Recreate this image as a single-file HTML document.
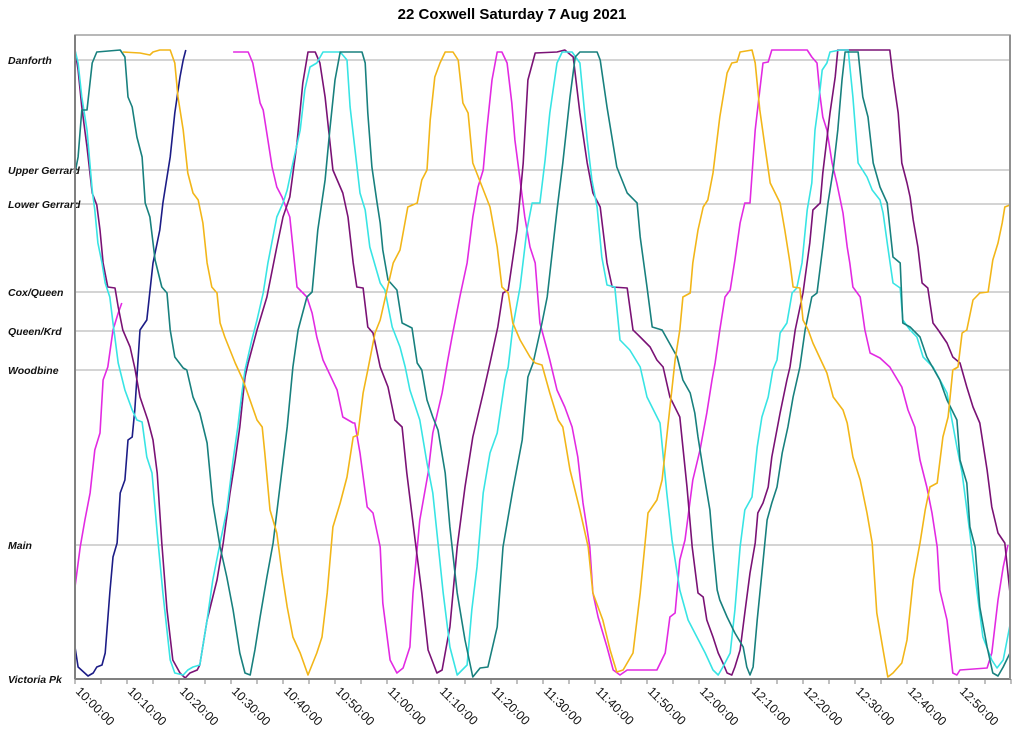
<!DOCTYPE html>
<html><head><meta charset="utf-8"><style>
html,body{margin:0;padding:0;background:#fff;}
svg{display:block;font-family:"Liberation Sans",Arial,sans-serif;}
</style></head><body>
<svg id="chart" width="1024" height="748" viewBox="0 0 1024 748" xmlns="http://www.w3.org/2000/svg">
<rect x="0" y="0" width="1024" height="748" fill="#fff"/>
<text x="512" y="19" text-anchor="middle" font-size="15" font-weight="bold" fill="#000">22 Coxwell Saturday 7 Aug 2021</text>
<g id="grid"></g>
<g id="series"></g>
<g id="axes"></g>
</svg>
<script>
// Stops: distance from Victoria Pk in metres
const stopNames = ["Danforth","Upper Gerrard","Lower Gerrard","Cox/Queen","Queen/Krd","Woodbine","Main","Victoria Pk"];
const stopDist = [6190,5090,4750,3870,3480,3090,1340,0];
// Time ticks, minutes after 10:00
const tickLabels = ["10:00:00","10:10:00","10:20:00","10:30:00","10:40:00","10:50:00","11:00:00","11:10:00","11:20:00","11:30:00","11:40:00","11:50:00","12:00:00","12:10:00","12:20:00","12:30:00","12:40:00","12:50:00"];
const tickMinutes = [0,10,20,30,40,50,60,70,80,90,100,110,120,130,140,150,160,170];
const seriesColors = ["#1c1c86","#e22ae2","#7a1275","#38e4e4","#18807e","#f2b619"];
const seriesNames = ["navy-vehicle","magenta-vehicle","purple-vehicle","cyan-vehicle","teal-vehicle","orange-vehicle"];

// [minutes after 10:00, metres from Victoria Pk]
const navyTrip = [[0,320],[0.6,120],[2.5,30],[3.5,60],[4.2,120],[5.2,140],[5.8,260],[6.7,860],[7.3,1220],[8.1,1360],[8.7,1860],[9.6,1990],[10.2,2390],[11.0,2420],[11.5,2690],[12.5,3490],[13.8,3590],[15.0,4160],[16.3,4490],[16.9,4760],[18.3,5220],[19.2,5660],[20.2,6020],[20.8,6190],[21.3,6290]];
const magentaTripA = [[0,920],[1.0,1320],[1.9,1590],[2.9,1860],[3.8,2290],[4.8,2460],[5.4,2990],[6.3,3120],[7.3,3490],[8.3,3660],[9.0,3760]];
const magentaTripB = [[30.4,6270],[33.3,6270],[34.2,6160],[35.6,5760],[36.2,5690],[37.1,5390],[37.9,5120],[38.8,4920],[39.8,4820],[41.3,4620],[41.9,4320],[42.7,3920],[44.6,3820],[45.6,3660],[46.5,3420],[47.7,3190],[50.4,2890],[51.5,2620],[53.5,2560],[53.8,2560],[54.8,2260],[56.2,1720],[57.3,1660],[58.7,1320],[59.2,760],[60.6,190],[61.9,60],[63.1,110],[64.4,320],[65.0,860],[66.3,1590],[67.9,2060],[68.8,2460],[70.6,2860],[71.7,3190],[72.5,3420],[74.0,3820],[75.4,4160],[76.5,4620],[77.5,4920],[78.5,5090],[79.2,5490],[80.2,5990],[81.2,6270],[82.1,6270],[83.1,6160],[84.0,5760],[84.6,5390],[85.6,4990],[86.5,4620],[87.5,4320],[88.5,4160],[89.4,3560],[90.8,3290],[91.3,3190],[92.7,2890],[94.2,2720],[95.6,2520],[96.7,2220],[97.7,1760],[99.0,1320],[99.6,860],[100.6,620],[102.3,320],[103.5,90],[104.8,40],[106.2,90],[111.9,90],[113.5,260],[114.4,620],[115.4,660],[116.3,1190],[117.3,1390],[118.8,1990],[120.2,2290],[121.5,2660],[122.5,2990],[123.1,3160],[124.0,3490],[125.0,3820],[126.0,3890],[126.9,4190],[127.9,4560],[128.8,4760],[129.8,4760],[130.8,5490],[131.7,5890],[132.3,6160],[133.3,6170],[134.0,6290],[140.8,6290],[141.7,6220],[142.7,6160],[143.3,5820],[143.8,5620],[144.6,5490],[145.6,5160],[146.5,4960],[147.7,4660],[148.5,4320],[149.0,4160],[149.6,3920],[151.0,3820],[151.9,3490],[152.9,3260],[154.8,3210],[156.7,3120],[159.0,2920],[160.2,2690],[161.5,2520],[162.5,2190],[163.8,1920],[164.8,1660],[165.8,1320],[166.3,890],[167.7,590],[168.8,60],[169.6,40],[170.2,90],[175.4,110],[176.3,260],[177.5,790],[178.5,1120],[179.4,1340]];
const purpleTrip = [[0,6290],[0.6,6090],[1.3,5720],[2.3,5320],[3.3,4860],[4.2,4740],[4.8,4490],[5.4,4160],[6.3,3920],[7.7,3910],[8.3,3720],[9.2,3490],[10.6,3320],[11.5,3110],[12.5,2820],[14.0,2590],[15.0,2390],[15.8,2060],[16.7,1360],[17.7,690],[18.8,190],[20.2,60],[21.2,10],[22.1,60],[23.5,90],[24.0,140],[25.4,590],[27.3,990],[28.5,1360],[29.8,1860],[30.8,2190],[31.7,2520],[32.7,3020],[33.3,3160],[35.0,3490],[36.9,3820],[38.8,4320],[40.0,4620],[41.3,4820],[42.7,5360],[43.8,5960],[44.8,6270],[46.2,6270],[47.1,6160],[48.1,5820],[49.6,5090],[51.5,4860],[52.5,4620],[53.5,4160],[54.2,3920],[55.4,3910],[56.3,3520],[57.3,3460],[58.7,3120],[60.2,2920],[61.5,2590],[62.9,2520],[63.8,2060],[65.4,1390],[66.7,860],[67.9,290],[69.6,60],[70.6,90],[72.1,520],[73.5,1320],[75.0,1920],[76.5,2420],[78.5,2860],[79.8,3160],[81.3,3520],[82.3,3860],[83.3,3890],[85.0,4490],[86.2,5160],[87.1,5990],[88.5,6260],[92.7,6270],[94.2,6290],[95.8,6220],[97.1,5660],[98.5,5160],[99.6,4860],[101.0,4720],[102.3,4160],[103.3,3920],[106.2,3910],[107.3,3490],[108.7,3420],[110.6,3320],[111.9,3190],[113.1,3120],[114.4,2820],[116.3,2620],[117.7,1920],[118.7,1320],[119.8,860],[120.8,820],[121.5,590],[122.7,420],[123.7,260],[124.6,160],[125.4,60],[126.3,40],[126.9,120],[127.9,290],[128.8,660],[129.8,1060],[130.8,1360],[131.3,1660],[132.3,1760],[133.3,1920],[134.0,2220],[135.6,2660],[136.9,2990],[137.5,3120],[138.5,3490],[140.0,3860],[141.3,4360],[141.9,4690],[143.3,4760],[143.8,5060],[145.2,5660],[146.2,6020],[146.7,6290],[156.7,6290],[157.3,6020],[158.3,5660],[159.0,5160],[160.0,4960],[160.6,4820],[161.2,4590],[162.1,4320],[162.9,3960],[164.0,3910],[165.0,3560],[166.0,3490],[167.7,3360],[168.8,3220],[170.2,3160],[171.5,2920],[172.7,2720],[174.0,2560],[175.4,2090],[176.3,1720],[177.5,1460],[178.8,1360],[179.8,860]];
const cyanTrip = [[0,6290],[0.6,6160],[1.3,5820],[2.3,5490],[3.3,4890],[3.8,4690],[4.4,4360],[5.2,4160],[5.8,3960],[6.7,3820],[7.3,3560],[8.3,3160],[9.6,2890],[11.0,2690],[11.9,2590],[12.9,2570],[13.8,2220],[14.8,2060],[15.8,1460],[16.9,860],[18.3,190],[19.2,60],[20.8,40],[21.7,90],[22.7,120],[24.0,140],[25.4,590],[26.5,990],[27.9,1360],[29.2,1690],[30.4,2190],[31.3,2520],[32.1,2860],[32.7,3090],[34.0,3390],[35.0,3590],[36.2,3860],[37.1,4160],[38.8,4620],[40.0,4760],[40.8,4890],[41.9,5160],[43.3,5490],[44.2,5890],[45.2,6120],[46.5,6160],[47.7,6270],[51.0,6270],[52.3,6190],[52.9,5720],[54.8,4860],[55.8,4690],[56.7,4320],[58.7,3960],[59.6,3890],[61.0,3520],[62.5,3320],[63.5,3120],[64.4,2890],[66.3,2590],[67.7,2160],[68.8,1860],[69.8,1360],[70.8,860],[72.1,320],[73.5,40],[75.4,140],[76.3,690],[77.3,1120],[78.5,1860],[79.8,2260],[81.2,2460],[82.7,2990],[83.3,3120],[84.2,3520],[85.6,3920],[86.9,4490],[87.9,4760],[89.4,4760],[90.4,5190],[91.3,5660],[92.7,6160],[93.7,6270],[95.6,6270],[97.1,6160],[98.5,5390],[99.4,4990],[100.4,4720],[101.3,4220],[102.3,3940],[103.8,3920],[104.8,3390],[106.7,3290],[108.7,3120],[110.0,2820],[112.5,2560],[113.8,1860],[114.8,1390],[116.3,890],[117.9,590],[119.6,420],[121.2,260],[122.7,90],[123.7,40],[124.6,120],[126.0,260],[126.9,690],[127.9,1320],[128.8,1690],[130.2,1820],[131.2,2320],[132.1,2620],[133.3,2820],[134.2,3090],[135.0,3190],[135.6,3460],[136.9,3560],[137.9,3860],[138.8,3910],[139.8,4160],[140.8,4690],[141.7,4960],[142.3,5490],[142.9,5720],[143.7,6090],[144.6,6160],[145.2,6270],[147.1,6290],[148.7,6290],[149.6,5820],[150.6,5160],[152.3,5020],[153.3,4890],[154.8,4790],[155.4,4660],[156.3,4320],[157.3,3960],[158.7,3910],[159.2,3590],[160.6,3490],[161.9,3420],[163.1,3220],[165.0,3120],[167.7,2860],[169.6,2320],[170.6,2060],[172.1,1460],[173.5,860],[174.6,420],[176.3,190],[177.3,110],[178.5,190],[179.8,540]];
const tealTrip = [[0,5060],[0.6,5220],[1.3,5690],[2.3,5690],[3.3,6160],[4.2,6270],[8.7,6290],[9.6,6220],[10.2,5820],[11.0,5720],[11.9,5420],[12.9,5220],[13.5,4760],[14.4,4620],[15.4,4190],[16.7,3920],[17.7,3860],[18.3,3490],[19.2,3220],[20.8,3110],[21.5,3090],[22.7,2820],[24.0,2660],[25.4,2360],[26.5,1760],[27.9,1320],[29.2,1020],[30.4,690],[31.7,260],[32.7,60],[33.7,40],[34.6,290],[35.6,620],[36.9,1020],[38.1,1360],[39.4,1920],[40.8,2520],[41.9,3120],[42.9,3490],[44.6,3820],[45.6,3870],[46.7,4490],[48.1,4990],[49.0,5490],[50.0,5990],[51.0,6270],[55.2,6270],[55.8,6160],[56.3,5660],[57.1,5120],[58.1,4760],[58.7,4560],[59.2,4290],[60.2,3990],[61.9,3890],[62.9,3560],[64.8,3510],[65.8,3160],[66.7,3090],[67.7,2790],[68.8,2620],[69.8,2490],[71.2,2060],[72.1,1520],[73.5,860],[75.0,390],[76.5,20],[77.9,110],[79.4,120],[81.2,520],[82.3,1320],[84.2,1890],[86.0,2390],[87.1,3020],[88.1,3160],[89.8,3560],[90.8,3820],[92.7,4690],[93.8,5160],[95.2,5820],[96.2,6220],[97.1,6270],[100.4,6270],[101.0,6190],[102.3,5720],[104.2,5120],[106.2,4860],[108.1,4760],[108.7,4420],[110.0,3920],[111.0,3520],[112.9,3490],[115.8,3220],[116.9,2990],[118.3,2860],[119.2,2660],[119.8,2420],[120.8,2090],[122.1,1690],[122.7,1320],[123.5,890],[124.0,790],[125.4,620],[126.9,460],[128.5,320],[129.2,120],[129.8,40],[130.4,120],[131.2,590],[132.1,1060],[133.1,1590],[134.0,1760],[135.0,1920],[136.0,2260],[137.1,2520],[138.1,2820],[139.4,3120],[140.4,3490],[141.7,3820],[142.7,3860],[143.8,4320],[144.8,4760],[145.8,5090],[146.7,5490],[147.5,5990],[148.1,6270],[150.6,6270],[151.5,5820],[152.5,5620],[153.5,5160],[154.8,4920],[156.2,4760],[157.3,4220],[158.7,4160],[159.2,3560],[160.6,3520],[162.5,3420],[163.8,3220],[166.3,2990],[167.7,2790],[169.6,2590],[170.2,2190],[171.5,1960],[172.1,1520],[173.1,1320],[174.0,720],[175.4,320],[176.5,60],[177.5,30],[178.5,120],[179.8,260]];
const orangeTrip = [[9.2,6270],[12.5,6260],[14.4,6240],[15.0,6270],[16.3,6290],[18.3,6290],[19.2,6160],[19.8,5820],[20.8,5490],[21.7,5060],[22.7,4860],[23.7,4790],[24.6,4560],[25.4,4160],[26.3,3920],[27.3,3860],[27.9,3560],[28.8,3420],[29.8,3290],[30.8,3160],[32.3,2990],[35.0,2590],[36.0,2520],[36.5,2260],[37.5,1690],[38.8,1460],[39.8,1060],[40.8,720],[41.9,420],[43.3,260],[44.8,40],[46.5,260],[47.5,420],[48.5,860],[49.6,1520],[51.0,1760],[52.3,2020],[53.5,2420],[54.4,2440],[55.4,2860],[56.3,3090],[57.7,3460],[58.7,3590],[60.0,3890],[61.2,4160],[62.5,4290],[64.0,4720],[65.8,4760],[66.7,4990],[67.7,5090],[68.3,5590],[69.2,6020],[70.2,6160],[71.2,6270],[72.7,6270],[73.7,6190],[74.6,5760],[75.6,5660],[76.5,5160],[78.3,4920],[79.8,4720],[81.2,4320],[82.1,3920],[83.3,3860],[84.2,3560],[85.6,3390],[87.5,3220],[88.5,3160],[89.8,3140],[91.3,2860],[92.9,2590],[93.8,2520],[95.2,2090],[97.1,1690],[98.7,1320],[99.6,860],[101.5,590],[102.9,290],[104.2,70],[105.4,90],[107.3,260],[108.7,860],[110.2,1660],[111.9,1790],[112.9,1990],[114.0,2520],[115.4,3190],[116.3,3490],[116.9,3820],[118.3,3860],[118.8,4160],[119.8,4490],[120.8,4720],[121.7,4790],[122.7,5060],[124.0,5620],[125.4,6060],[126.3,6160],[127.3,6170],[127.9,6270],[130.2,6290],[130.8,6160],[131.7,5690],[132.7,5320],[133.7,4960],[135.6,4760],[136.5,4490],[137.5,4160],[138.1,3920],[139.4,3910],[140.0,3590],[141.0,3490],[141.9,3360],[143.7,3160],[144.6,3060],[145.8,2820],[147.7,2690],[148.5,2560],[149.6,2220],[151.0,1990],[152.3,1660],[153.3,1360],[154.2,660],[155.4,290],[156.3,20],[157.3,60],[159.0,160],[160.0,390],[161.2,990],[162.5,1360],[163.5,1690],[164.4,1920],[165.8,1960],[166.9,2420],[167.9,2620],[168.8,3090],[169.8,3120],[170.6,3460],[171.5,3490],[172.7,3790],[174.0,3860],[175.6,3870],[176.5,4190],[177.5,4360],[178.3,4560],[178.8,4720],[179.8,4740]];

const trips = [
  {data: navyTrip, color: 0},
  {data: magentaTripA, color: 1},
  {data: magentaTripB, color: 1},
  {data: purpleTrip, color: 2},
  {data: cyanTrip, color: 3},
  {data: tealTrip, color: 4},
  {data: orangeTrip, color: 5}
];

const NS = "http://www.w3.org/2000/svg";
const L = 75, R = 1010, T = 35, B = 679;
function xScale(m){ return L + m * 5.2; }
function yScale(d){ return B - d / 10; }
function mk(tag, attrs, parent){
  const e = document.createElementNS(NS, tag);
  for (const k in attrs) e.setAttribute(k, attrs[k]);
  parent.appendChild(e);
  return e;
}
const grid = document.getElementById('grid');
const axes = document.getElementById('axes');
const ser = document.getElementById('series');

// plot frame
const frame = mk('rect', {x:L, y:T, width:R-L, height:B-T, fill:'none', stroke:'#a0a0a0', 'stroke-width':1.5}, grid);



// station gridlines & labels
stopNames.forEach((n, i) => {
  const y = yScale(stopDist[i]);
  if (stopDist[i] > 0) {
    const gl = mk('line', {x1:L, x2:R, y1:y, y2:y, stroke:'#a8a8a8', 'stroke-width':1}, grid);
    
    
  }
  const t = mk('text', {x:8, y:y+4, 'font-size':10.5, 'font-weight':'bold', 'font-style':'italic', fill:'#111'}, axes);
  t.textContent = n;
  
  
});

// series lines
trips.forEach((tr, i) => {
  const pts = tr.data.map(p => xScale(p[0]).toFixed(1) + ',' + yScale(p[1]).toFixed(1)).join(' ');
  const pl = mk('polyline', {points:pts, fill:'none', stroke:seriesColors[tr.color], 'stroke-width':1.6, 'stroke-linejoin':'round'}, ser);
  
  
});

// axes lines
const xa = mk('line', {x1:L, x2:R+1, y1:B, y2:B, stroke:'#808080', 'stroke-width':2}, axes);


const ya = mk('line', {x1:L, x2:L, y1:T, y2:B, stroke:'#808080', 'stroke-width':2}, axes);


const rb = mk('line', {x1:R, x2:R, y1:T, y2:B, stroke:'#909090', 'stroke-width':2}, axes);



// minor ticks every 5 minutes
for (let m = 0; m <= 180; m += 5) {
  const tk = mk('line', {x1:xScale(m), x2:xScale(m), y1:B, y2:B+5, stroke:'#808080', 'stroke-width':1}, axes);
  
  
}
// tick labels
tickLabels.forEach((lab, i) => {
  const x = xScale(tickMinutes[i]);
  const t = mk('text', {x:x, y:692, 'font-size':12.5, fill:'#111', transform:'rotate(45 ' + x + ' 692)'}, axes);
  t.textContent = lab;
  
  
});
</script>
</body></html>
